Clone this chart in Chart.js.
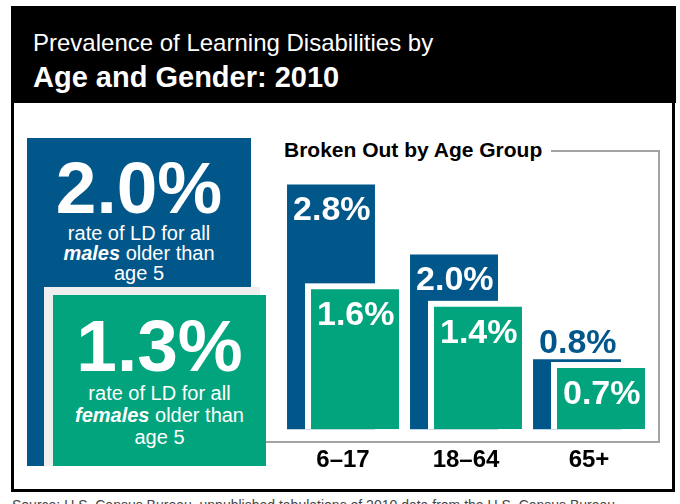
<!DOCTYPE html>
<html>
<head>
<meta charset="utf-8">
<script src="https://cdn.jsdelivr.net/npm/chart.js@4/dist/chart.umd.min.js"></script>
<style>
  html, body { margin: 0; padding: 0; background: #fff; }
  body { width: 680px; height: 504px; position: relative; overflow: hidden; font-family: "Liberation Sans", Arial, sans-serif; }
  .abs { position: absolute; }
  #frame { left: 11px; top: 6px; width: 664px; height: 486px; border: 3px solid #000; box-sizing: border-box; }
  #header { left: 11px; top: 6px; width: 665px; height: 97px; background: #000; color: #fff; }
  #t1 { left: 22px; top: 23px; font-size: 24px; white-space: nowrap; }
  #t2 { left: 22px; top: 55px; font-size: 29px; font-weight: bold; white-space: nowrap; }
  #maleBox { left: 27px; top: 138px; width: 224px; height: 328px; background: #02578a; }
  #grayBox { left: 44px; top: 287px; width: 216px; height: 179px; background: #efefef; }
  #femaleBox { left: 53px; top: 295px; width: 213px; height: 171px; background: #02a47e; }
  .big { color: #fff; font-weight: bold; font-size: 73px; line-height: 73px; text-align: center; width: 100%; left: 0; }
  .sub { color: #fff; font-size: 20px; text-align: center; width: 100%; left: 0; }
  #bTitle { left: 284px; top: 138px; font-size: 21px; font-weight: bold; white-space: nowrap; }
  .gline { background: #a3a3a3; }
  #src { left: 12px; top: 497px; font-size: 14px; color: #444; white-space: nowrap; }
  #wrap { left: 270px; top: 160px; width: 400px; height: 338px; }
</style>
</head>
<body>
<div class="abs" id="src">Source: U.S. Census Bureau, unpublished tabulations of 2010 data from the U.S. Census Bureau</div>
<div class="abs" id="frame"></div>
<div class="abs" id="header">
  <div class="abs" id="t1">Prevalence of Learning Disabilities by</div>
  <div class="abs" id="t2">Age and Gender: 2010</div>
</div>

<div class="abs gline" style="left:551px; top:150px; width:109px; height:2px;"></div>
<div class="abs gline" style="left:658px; top:150px; width:2px; height:293px;"></div>
<div class="abs gline" style="left:262px; top:441px; width:398px; height:2px;"></div>
<div class="abs" id="bTitle">Broken Out by Age Group</div>

<div class="abs" id="maleBox">
  <div class="abs big" id="maleBig" style="top:13px;"></div>
  <div class="abs sub" style="top:85px; line-height:20px;">rate of LD for all<br><b><i>males</i></b> older than<br>age 5</div>
</div>
<div class="abs" id="grayBox"></div>
<div class="abs" id="femaleBox">
  <div class="abs big" id="femaleBig" style="top:14px;"></div>
  <div class="abs sub" style="top:87px; line-height:22px;">rate of LD for all<br><b><i>females</i></b> older than<br>age 5</div>
</div>

<div class="abs" id="wrap"><canvas id="myChart"></canvas></div>

<script>
var categories = ['6–17', '18–64', '65+'];
var maleValues = [2.8, 2.0, 0.8];
var femaleValues = [1.6, 1.4, 0.7];
var maleOverall = 2.0;
var femaleOverall = 1.3;

var blue = '#02578a';
var green = '#02a47e';
var font = '"Liberation Sans", Arial, sans-serif';

document.getElementById('maleBig').textContent = maleOverall.toFixed(1) + '%';
document.getElementById('femaleBig').textContent = femaleOverall.toFixed(1) + '%';

// blue bars go first, then a white gap, then the green bars on top
var barLabels = {
    id: 'barLabels',
    beforeDatasetsDraw: function(chart) {
        var c = chart.ctx;
        chart.getDatasetMeta(0).controller.draw();
        c.save();
        c.fillStyle = '#fff';
        chart.getDatasetMeta(1).data.forEach(function(bar) {
            var p = bar.getProps(['x', 'y', 'base', 'width'], true);
            c.fillRect(p.x - p.width / 2 - 6, p.y - 6, p.width + 12, p.base - p.y + 6);
        });
        c.restore();
    },
    beforeDatasetDraw: function(chart, args) {
        if (args.index === 0) return false;
    },
    afterDatasetsDraw: function(chart) {
        var c = chart.ctx;
        var male = chart.getDatasetMeta(0).data;
        var female = chart.getDatasetMeta(1).data;
        c.save();
        c.font = 'bold 34px ' + font;
        c.textAlign = 'left';
        c.textBaseline = 'alphabetic';
        male.forEach(function(bar, i) {
            var p = bar.getProps(['x', 'y', 'width'], true);
            var fy = female[i].getProps(['y'], true).y;
            var x = p.x - p.width / 2 + 6;
            if (fy - p.y < 45) {
                c.fillStyle = blue;
                c.fillText(maleValues[i].toFixed(1) + '%', x, p.y - 6);
            } else {
                c.fillStyle = '#fff';
                c.fillText(maleValues[i].toFixed(1) + '%', x, p.y + 36);
            }
        });
        female.forEach(function(bar, i) {
            var p = bar.getProps(['x', 'y', 'width'], true);
            c.fillStyle = '#fff';
            c.fillText(femaleValues[i].toFixed(1) + '%', p.x - p.width / 2 + 6, p.y + 36);
        });
        c.restore();
    }
};

var ctx = document.getElementById('myChart').getContext('2d');
var chart = new Chart(ctx, {
    type: 'bar',
    data: {
        labels: categories,
        datasets: [{
            label: 'Males',
            data: maleValues,
            backgroundColor: blue,
            borderWidth: 0,
            categoryPercentage: 0.39,
            barPercentage: 3.667
        }, {
            label: 'Females',
            data: femaleValues,
            backgroundColor: green,
            borderWidth: 0,
            categoryPercentage: 0.39,
            barPercentage: 3.667
        }]
    },
    options: {
        responsive: true,
        maintainAspectRatio: false,
        animation: false,
        events: [],
        layout: { padding: { top: 7, left: 11.5, right: 19.5, bottom: 6 } },
        plugins: { legend: { display: false }, tooltip: { enabled: false } },
        scales: {
            x: {
                grid: { display: false, drawTicks: false },
                border: { display: false },
                ticks: {
                    color: '#000',
                    padding: 17,
                    font: { family: font, size: 24, weight: 'bold', lineHeight: 1.2 }
                }
            },
            y: {
                display: false,
                min: 0,
                max: 3.0
            }
        }
    },
    plugins: [barLabels]
});
</script>
</body>
</html>
